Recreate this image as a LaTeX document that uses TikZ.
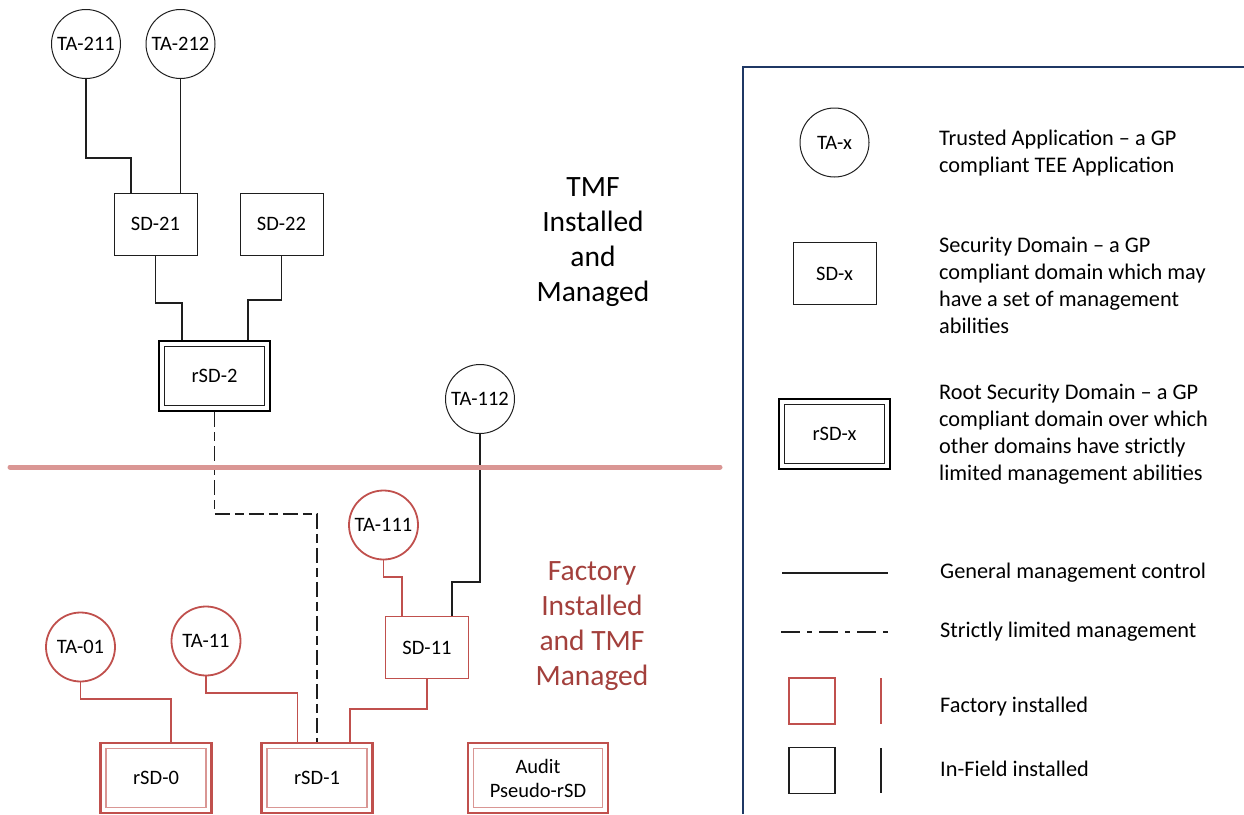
\documentclass[tikz,border=0pt]{standalone}
\usepackage{fontspec}
\setmainfont{Carlito}
\definecolor{redA}{RGB}{192,80,77}
\definecolor{redB}{RGB}{217,150,148}
\definecolor{sepred}{RGB}{218,150,148}
\definecolor{textred}{RGB}{163,64,60}
\definecolor{framecol}{RGB}{31,56,100}
\definecolor{ink}{RGB}{30,30,30}
\begin{document}
\begin{tikzpicture}[x=1pt,y=-1pt,
  lbl/.style={font=\fontsize{20.5}{24}\selectfont},
  ta/.style={circle,draw=ink,line width=1pt,minimum size=69pt,inner sep=0pt,lbl},
  tar/.style={ta,draw=redA,line width=1.8pt},
  sdbox/.style={rectangle,draw=ink,line width=1pt,minimum width=83pt,minimum height=62pt,inner sep=0pt,lbl},
  sdr/.style={sdbox,draw=redA,line width=1.2pt},
  rsd/.style={rectangle,draw=black,line width=2.8pt,minimum width=111pt,minimum height=70pt,inner sep=0pt,lbl,align=center},
  rsdr/.style={rsd,draw=redA},
  innerk/.style={draw=ink,line width=1pt},
  innerr/.style={draw=redB,line width=1.6pt},
  conn/.style={draw=ink,line width=1.1pt},
  connr/.style={draw=redA,line width=1.2pt},
  limited/.style={draw=ink,line width=1.3pt,dash pattern=on 15pt off 5pt on 9pt off 5pt},
  limitedleg/.style={draw=ink,line width=1.3pt,dash pattern=on 19pt off 7pt on 5pt off 7pt},
  sepline/.style={draw=sepred,line width=5pt,line cap=round},
  bigtxt/.style={font=\fontsize{29.5}{35}\selectfont,align=center},
  legtxt/.style={font=\fontsize{22.3}{27}\selectfont,align=left,anchor=west,inner sep=0pt},
  legsq/.style={rectangle,minimum size=46pt,inner sep=0pt,line width=1.2pt},
]
\useasboundingbox (0,0) rectangle (1244,814);

% ---------- upper (in-field) part ----------
\node[ta] (ta211) at (86,44) {TA-211};
\node[ta] (ta212) at (180.5,44) {TA-212};
\node[sdbox] (sd21) at (155.5,224) {SD-21};
\node[sdbox] (sd22) at (281.5,224) {SD-22};
\node[rsd] (rsd2) at (214.5,376) {rSD-2};
\node[ta] (ta112) at (480,399) {TA-112};

% ---------- lower (factory) part ----------
\node[tar] (ta111) at (383.5,525) {TA-111};
\node[sdr] (sd11) at (427,647.5) {SD-11};
\node[tar] (ta01) at (80.5,647) {TA-01};
\node[tar] (ta11) at (206,641) {TA-11};
\node[rsdr] (rsd0) at (156,778) {rSD-0};
\node[rsdr] (rsd1) at (317,778) {rSD-1};
\node[rsdr,minimum width=140pt] (audit) at (538,778) {Audit\\Pseudo-rSD};

% inner borders of root security domains
\foreach \n/\s in {rsd2/innerk,rsd0/innerr,rsd1/innerr,audit/innerr}{
  \draw[\s] ([shift={(7,7)}]\n.north west) rectangle ([shift={(-7,-7)}]\n.south east);
}

% ---------- connectors ----------
\draw[conn] (ta211.south) |- (131,158) -- ([xshift=-24.5pt]sd21.north);
\draw[conn] (ta212.south) -- (ta212.south |- sd21.north);
\draw[conn] (sd21.south) |- (182,303) -- ([xshift=-32.5pt]rsd2.north);
\draw[conn] (sd22.south) |- (248,300) -- ([xshift=33.5pt]rsd2.north);
\draw[limited] (rsd2.south) |- (317,514) -- (rsd1.north);
\draw[conn] (ta112.south) |- (452,582) -- ([xshift=25pt]sd11.north);
\draw[connr] (ta111.south) |- (402,577) -- ([xshift=-25pt]sd11.north);
\draw[connr] (sd11.south) |- (350,709) -- ([xshift=33pt]rsd1.north);
\draw[connr] (ta01.south) |- (171,699) -- ([xshift=15pt]rsd0.north);
\draw[connr] (ta11.south) |- (297.5,693) -- ([xshift=-19.5pt]rsd1.north);

% separator
\coordinate (sepL) at (10,467);
\coordinate (sepR) at (720,467);
\draw[sepline] (sepL) -- (sepR);

% region titles
\node[bigtxt] (tmf) at (593,242) {TMF\\Installed\\and\\Managed};
\node[bigtxt,text=textred] (fac) at (592,626) {Factory\\Installed\\and TMF\\Managed};

% ---------- legend ----------
\coordinate (frB) at (743,814);
\coordinate (frC) at (743,67);
\coordinate (frR) at (1244,67);
\draw[draw=framecol,line width=1.1pt] (frB) -- (frC) -- (frR);

\node[ta] (lta) at (834.5,142.5) {TA-x};
\node[legtxt] (tta) at (939,153) {Trusted Application -- a GP\\compliant TEE Application};

\node[sdbox] (lsd) at (834.5,273.5) {SD-x};
\node[legtxt] (tsd) at (939,285.5) {Security Domain -- a GP\\compliant domain which may\\have a set of management\\abilities};

\node[rsd] (lrsd) at (834.5,434) {rSD-x};
\draw[innerk] ([shift={(7,7)}]lrsd.north west) rectangle ([shift={(-7,-7)}]lrsd.south east);
\node[legtxt] (trsd) at (939,434) {Root Security Domain -- a GP\\compliant domain over which\\other domains have strictly\\limited management abilities};

\coordinate (g1) at (782,573);
\coordinate (g2) at (888,573);
\draw[conn] (g1) -- (g2);
\node[legtxt] (tgen) at (940,573) {General management control};

\coordinate (s1) at (781,632);
\coordinate (s2) at (889,632);
\draw[limitedleg] (s1) -- (s2);
\node[legtxt] (tstr) at (940,632) {Strictly limited management};

\node[legsq,draw=redA] (fsq) at (812,701) {};
\coordinate (f1) at (881,678);
\coordinate (f2) at (881,724);
\draw[connr] (f1) -- (f2);
\node[legtxt] (tfac) at (940,707) {Factory installed};

\node[legsq,draw=ink] (isq) at (812,770.5) {};
\coordinate (i1) at (881,748);
\coordinate (i2) at (881,793);
\draw[conn] (i1) -- (i2);
\node[legtxt] (tinf) at (940,769) {In-Field installed};
\end{tikzpicture}
\end{document}
